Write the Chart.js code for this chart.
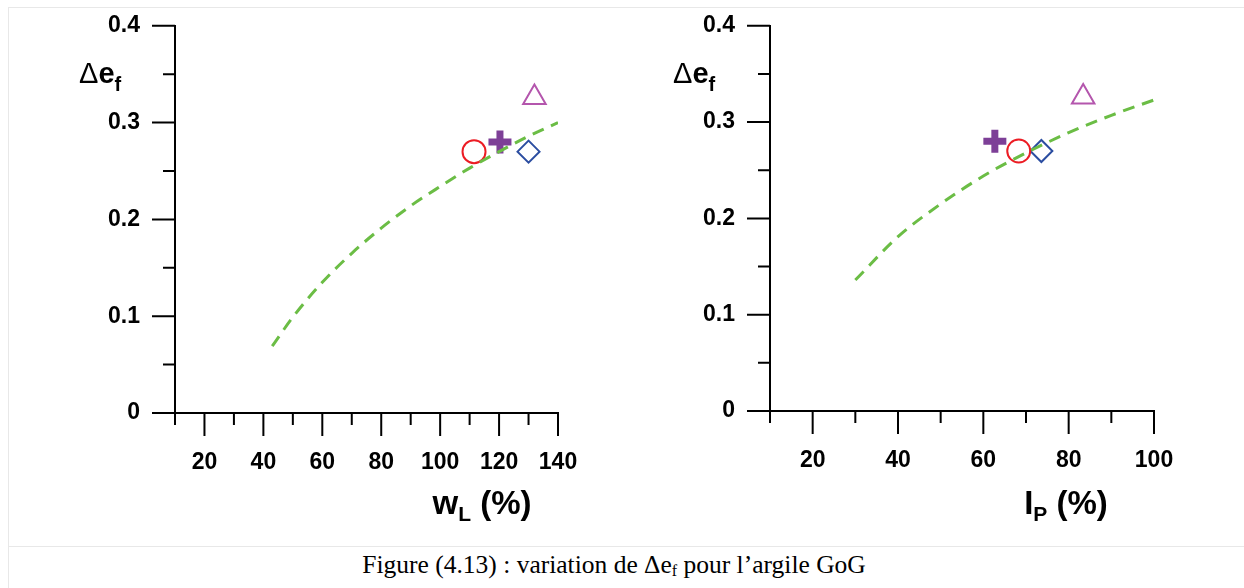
<!DOCTYPE html>
<html>
<head>
<meta charset="utf-8">
<script src="https://cdn.jsdelivr.net/npm/chart.js@4.4.0/dist/chart.umd.min.js"></script>
<style>
  body { margin: 0; background: #fff; width: 1244px; height: 588px; overflow: hidden; position: relative;
         font-family: "Liberation Sans", Arial, sans-serif; }
  .line-h { position: absolute; height: 0; border-top: 1px solid #e8e8e8; }
  .line-v { position: absolute; width: 0; border-left: 1px solid #e8e8e8; }
  canvas { position: absolute; top: 0; }
  .ylab { position: absolute; font-size: 29px; line-height: 28px; white-space: nowrap; color: #000; }
  .ylab b { font-weight: bold; }
  .ylab .sub { position: relative; top: 8px; font-size: 20px; font-weight: bold; }
  .xlab { position: absolute; width: 240px; text-align: center; font-size: 33px; line-height: 31px;
          font-weight: bold; white-space: nowrap; color: #000; }
  .xlab .sub { position: relative; top: 7px; font-size: 21px; }
  .caption { position: absolute; left: -8px; width: 1244px; top: 553px; text-align: center;
             font-family: "Liberation Serif", "DejaVu Serif", serif; font-size: 25.5px; line-height: 23px; color: #000; }
  .caption .sub { position: relative; top: 3px; font-size: 16px; }
</style>
</head>
<body>
<div class="line-h" style="left:8px; top:7px; width:1236px;"></div>
<div class="line-v" style="left:8px; top:7px; height:581px;"></div>
<div class="line-h" style="left:8px; top:546px; width:1236px;"></div>

<canvas id="chartWl" width="620" height="540" style="left:0;"></canvas>
<canvas id="chartIp" width="624" height="540" style="left:620px;"></canvas>

<div class="ylab" style="left:79px; top:59px;">&Delta;<b>e</b><span class="sub">f</span></div>
<div class="ylab" style="left:673px; top:59px;">&Delta;<b>e</b><span class="sub">f</span></div>
<div class="xlab" style="left:362px; top:487px;">w<span class="sub">L</span> (%)</div>
<div class="xlab" style="left:946px; top:487px;">I<span class="sub">P</span> (%)</div>
<div class="caption">Figure (4.13) : variation de &Delta;e<span class="sub">f</span> pour l’argile GoG</div>

<script>
// -------------------------------
// Data
// -------------------------------
// left panel: liquid limit wL (%)
const wlCurveX = [43, 50, 60, 70, 80, 90, 100, 110, 120, 130, 140];
const wlCurveY = [0.069, 0.099, 0.135, 0.165, 0.191, 0.214, 0.234, 0.253, 0.270, 0.286, 0.300];
const wlCircle = [111.5, 0.270];
const wlCross = [120.3, 0.280];
const wlDiamond = [130.0, 0.270];
const wlTriangle = [132.0, 0.326];

// right panel: plasticity index Ip (%)
const ipCurveX = [30, 40, 50, 60, 70, 80, 90, 100];
const ipCurveY = [0.136, 0.181, 0.215, 0.244, 0.268, 0.289, 0.307, 0.323];
const ipCircle = [68.3, 0.270];
const ipCross = [62.7, 0.280];
const ipDiamond = [73.6, 0.270];
const ipTriangle = [83.4, 0.326];

// tick labels / tick marks
const yMajor = [0, 0.1, 0.2, 0.3, 0.4];
const yMinor = [0.05, 0.15, 0.25, 0.35];
const wlMajor = [20, 40, 60, 80, 100, 120, 140];
const wlMinor = [10, 30, 50, 70, 90, 110, 130];
const ipMajor = [20, 40, 60, 80, 100];
const ipMinor = [10, 30, 50, 70, 90];

// -------------------------------
// Helpers
// -------------------------------
const toPts = (xs, ys) => xs.map((x, i) => ({ x: x, y: ys[i] }));
const onePt = p => [{ x: p[0], y: p[1] }];
const tickFont = { family: "'Liberation Sans', Arial, sans-serif", size: 23, weight: 'bold' };

// draws major / minor tick marks outside the axes
const tickMarks = {
    id: 'tickMarks',
    afterDraw(chart, args, opts) {
        const c = chart.ctx, xs = chart.scales.x, ys = chart.scales.y;
        const a = chart.chartArea;
        c.save();
        c.strokeStyle = '#000';
        c.lineWidth = 2;
        c.beginPath();
        opts.xMajor.forEach(v => { const p = xs.getPixelForValue(v); c.moveTo(p, a.bottom); c.lineTo(p, a.bottom + 23); });
        opts.xMinor.forEach(v => { const p = xs.getPixelForValue(v); c.moveTo(p, a.bottom); c.lineTo(p, a.bottom + 12); });
        opts.yMajor.forEach(v => { const p = ys.getPixelForValue(v); c.moveTo(a.left - 23, p); c.lineTo(a.left, p); });
        opts.yMinor.forEach(v => { const p = ys.getPixelForValue(v); c.moveTo(a.left - 12, p); c.lineTo(a.left, p); });
        c.stroke();
        c.restore();
    }
};

function makeChart(id, cfg) {
    const ctx = document.getElementById(id).getContext('2d');
    return new Chart(ctx, {
        type: 'scatter',
        data: {
            datasets: [
                {
                    type: 'line', data: toPts(cfg.curveX, cfg.curveY),
                    borderColor: '#6bbd45', borderWidth: 3, borderDash: [12, 8],
                    pointRadius: 0, fill: false, cubicInterpolationMode: 'monotone'
                },
                { data: onePt(cfg.circle), pointStyle: 'circle', pointRadius: 11.5, borderColor: '#ec1c24', borderWidth: 2, backgroundColor: 'rgba(0,0,0,0)' },
                { data: onePt(cfg.cross), pointStyle: 'cross', pointRadius: 11.5, borderColor: '#7d3f97', borderWidth: 7, backgroundColor: '#7d3f97' },
                { data: onePt(cfg.diamond), pointStyle: 'rectRot', pointRadius: 11, borderColor: '#2c4ea1', borderWidth: 2, backgroundColor: 'rgba(0,0,0,0)' },
                { data: onePt(cfg.triangle), pointStyle: 'triangle', pointRadius: 13, borderColor: '#b456ad', borderWidth: 2, backgroundColor: 'rgba(0,0,0,0)' }
            ]
        },
        options: {
            responsive: false,
            animation: false,
            layout: { padding: { left: 0, top: cfg.top, right: cfg.right, bottom: 0 } },
            plugins: {
                legend: { display: false },
                tooltip: { enabled: false },
                tickMarks: { xMajor: cfg.xMajor, xMinor: cfg.xMinor, yMajor: yMajor, yMinor: yMinor }
            },
            scales: {
                x: {
                    type: 'linear', min: cfg.xMin, max: cfg.xMax,
                    afterBuildTicks: s => { s.ticks = cfg.xMajor.map(v => ({ value: v })); },
                    afterFit: s => { s.height = cfg.xHeight; },
                    grid: { display: true, drawOnChartArea: false, drawTicks: true, tickLength: 23, tickColor: 'rgba(0,0,0,0)' },
                    border: { display: true, color: '#000', width: 2 },
                    ticks: { autoSkip: false, maxRotation: 0, padding: 13, color: '#000', font: tickFont }
                },
                y: {
                    type: 'linear', min: 0, max: 0.4,
                    afterBuildTicks: s => { s.ticks = yMajor.map(v => ({ value: v })); },
                    afterFit: s => { s.width = cfg.yWidth; },
                    grid: { display: true, drawOnChartArea: false, drawTicks: true, tickLength: 23, tickColor: 'rgba(0,0,0,0)' },
                    border: { display: true, color: '#000', width: 2 },
                    ticks: {
                        padding: 12, color: '#000', font: tickFont,
                        callback: v => (v === 0 ? '0' : v.toFixed(1))
                    }
                }
            }
        },
        plugins: [tickMarks]
    });
}

// -------------------------------
// Build both panels
// -------------------------------
makeChart('chartWl', {
    curveX: wlCurveX, curveY: wlCurveY,
    circle: wlCircle, cross: wlCross, diamond: wlDiamond, triangle: wlTriangle,
    xMin: 10, xMax: 140, xMajor: wlMajor, xMinor: wlMinor,
    top: 24, right: 62, yWidth: 175, xHeight: 127
});

makeChart('chartIp', {
    curveX: ipCurveX, curveY: ipCurveY,
    circle: ipCircle, cross: ipCross, diamond: ipDiamond, triangle: ipTriangle,
    xMin: 10, xMax: 100, xMajor: ipMajor, xMinor: ipMinor,
    top: 22, right: 90, yWidth: 150, xHeight: 129
});
</script>
</body>
</html>
